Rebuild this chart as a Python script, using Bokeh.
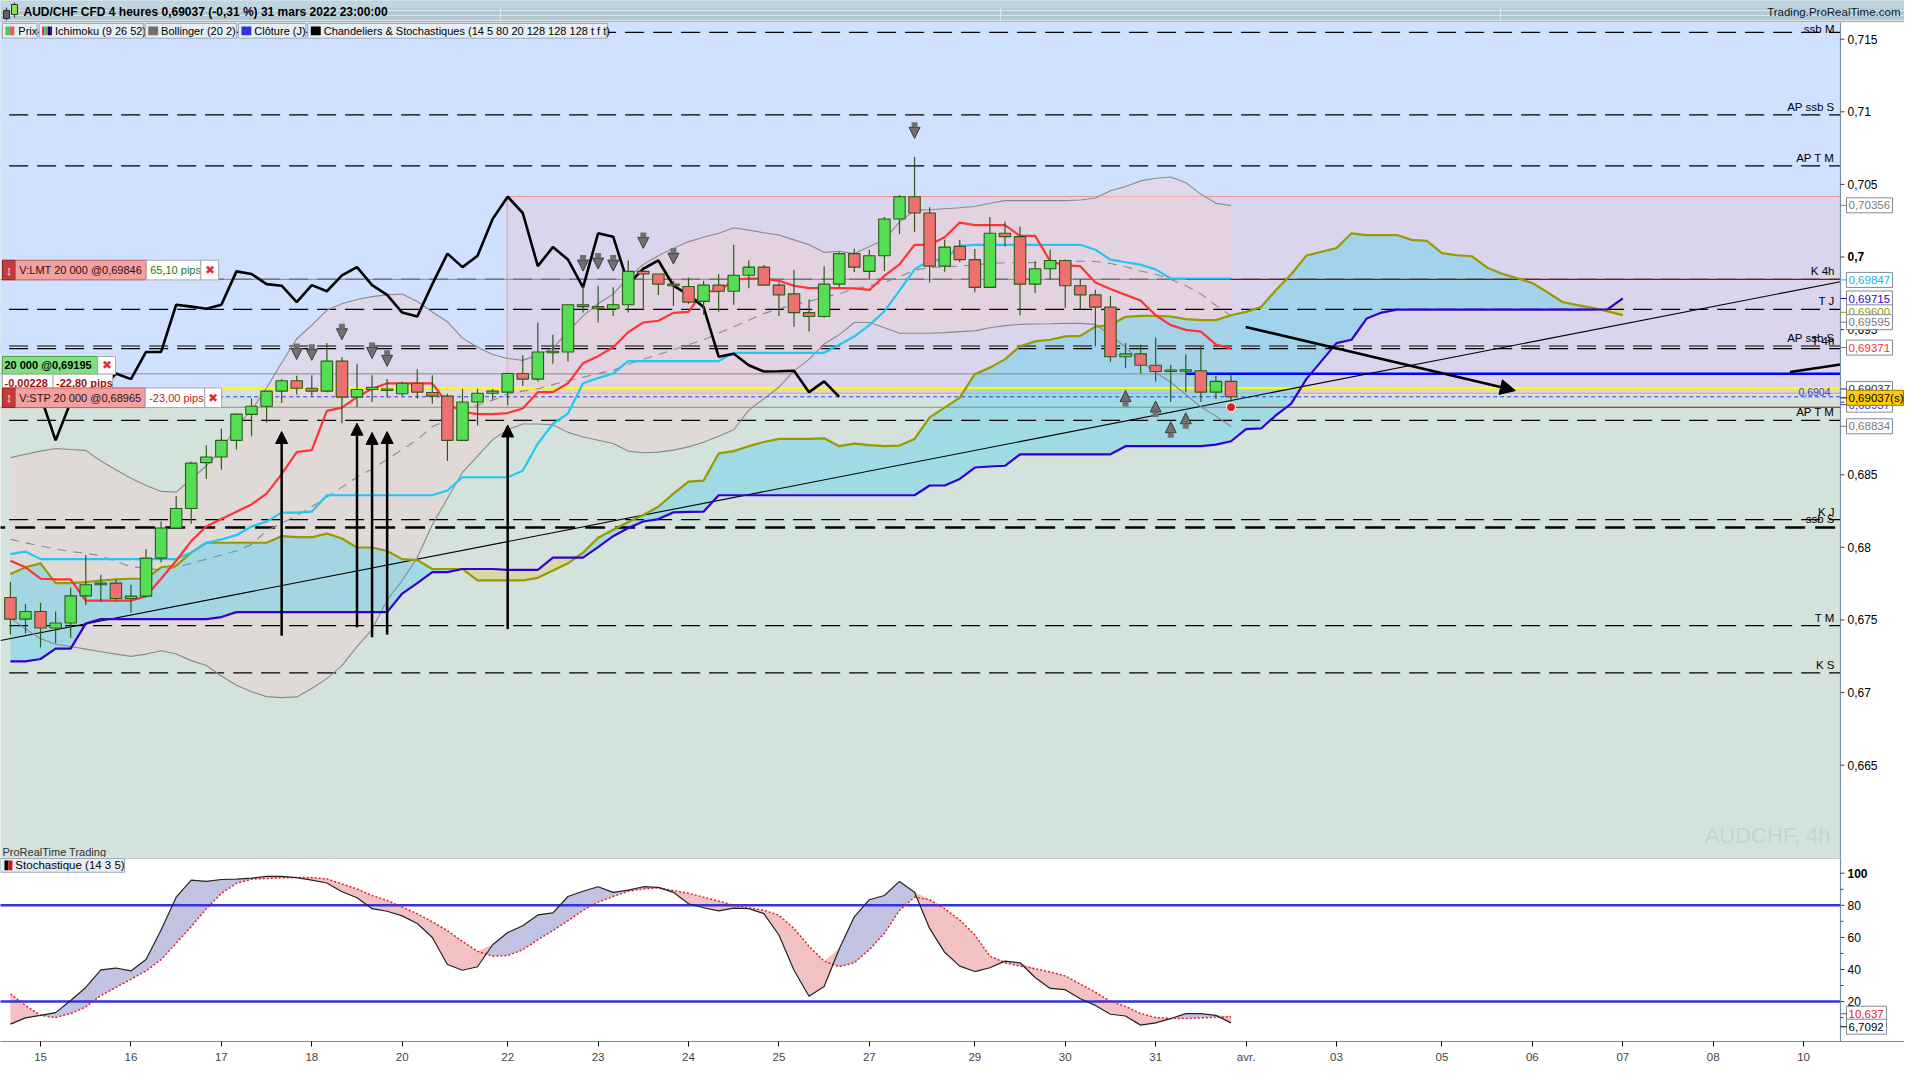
import numpy as np
from bokeh.core.properties import value
from bokeh.embed import file_html
from bokeh.layouts import column
from bokeh.models import Arrow, ColumnDataSource, FixedTicker, NormalHead, Range1d
from bokeh.plotting import figure
from bokeh.resources import INLINE

FONT = "Liberation Sans"

# AUD/CHF 4h candles, 82 bars up to 31 mars 2022 23:00
opens = [.67655, .67506, .67558, .67445, .67479, .67666, .67743, .67754, .67648, .67664,
         .67926, .68133, .68268, .68584, .68622, .68737, .68916, .68972, .69076, .69148,
         .69096, .69076, .69283, .69035, .69087, .69080, .69058, .69130, .69067, .69042,
         .68737, .69001, .69062, .69069, .69198, .69159, .69340, .69346, .69671, .69658,
         .69644, .69671, .69901, .69883, .69813, .69797, .69694, .69806, .69764, .69874,
         .69930, .69806, .69746, .69617, .69590, .69813, .70023, .69901, .70009, .70262,
         .70415, .70303, .69937, .70073, .69982, .69791, .70163, .70140, .69813, .69919,
         .69976, .69802, .69739, .69655, .69313, .69333, .69254, .69211, .69213, .69216,
         .69069, .69143]
highs = [.67761, .67610, .67619, .67558, .67723, .67948, .67811, .67781, .67743, .67987,
         .68178, .68354, .68589, .68704, .68819, .68922, .69026, .69076, .69159, .69182,
         .69186, .69407, .69310, .69265, .69186, .69159, .69143, .69227, .69186, .69058,
         .69092, .69092, .69091, .69202, .69324, .69549, .69464, .69671, .69802, .69802,
         .69791, .69976, .69901, .69883, .69836, .69858, .69836, .69881, .70084, .69976,
         .69944, .69824, .69910, .69707, .69937, .70032, .70057, .70050, .70275, .70427,
         .70688, .70343, .70118, .70118, .70055, .70275, .70242, .70208, .69971, .70050,
         .69982, .69847, .69775, .69730, .69407, .69396, .69446, .69256, .69328, .69385,
         .69180, .69189]
lows = [.67400, .67407, .67310, .67339, .67378, .67603, .67626, .67633, .67551, .67655,
        .67896, .68133, .68162, .68471, .68535, .68674, .68765, .68859, .68995, .69053,
        .69044, .69069, .68855, .68967, .69001, .69031, .69044, .69024, .68990, .68595,
        .68731, .68839, .69017, .68979, .69114, .69143, .69265, .69279, .69617, .69549,
        .69594, .69617, .69640, .69739, .69662, .69678, .69603, .69622, .69671, .69784,
        .69806, .69594, .69520, .69486, .69581, .69791, .69897, .69847, .69903, .70156,
        .70174, .69824, .69899, .69964, .69757, .69791, .70073, .69599, .69752, .69847,
        .69649, .69640, .69385, .69279, .69234, .69198, .69143, .69001, .69069, .69001,
        .69024, .69001]
closes = [.67506, .67558, .67445, .67479, .67666, .67743, .67754, .67648, .67664, .67926,
          .68133, .68268, .68580, .68622, .68737, .68918, .68972, .69076, .69148, .69096,
          .69076, .69283, .69035, .69087, .69103, .69087, .69130, .69069, .69042, .68737,
          .69001, .69062, .69076, .69198, .69159, .69346, .69346, .69671, .69658, .69644,
          .69671, .69901, .69883, .69813, .69802, .69689, .69806, .69764, .69874, .69930,
          .69806, .69739, .69617, .69590, .69813, .70023, .69930, .70009, .70262, .70415,
          .70303, .69937, .70068, .69982, .69791, .70163, .70140, .69813, .69919, .69976,
          .69802, .69739, .69655, .69313, .69333, .69254, .69211, .69213, .69216, .69069,
          .69143, .69037]

# Ichimoku (9 26 52)
tenkan = [.67908, .67863, .67784, .67779, .67779, .67633, .67633, .67633, .67633, .67664,
          .67784, .67908, .68043, .68144, .68196, .68246, .68296, .68370, .68505, .68656,
          .68670, .68940, .68963, .69035, .69092, .69130, .69130, .69130, .69130, .68990,
          .68934, .68918, .68918, .68925, .68956, .69069, .69069, .69130, .69268, .69317,
          .69378, .69482, .69549, .69561, .69615, .69622, .69764, .69764, .69843, .69852,
          .69852, .69836, .69802, .69786, .69786, .69786, .69784, .69773, .69870, .69949,
          .70084, .70084, .70136, .70237, .70219, .70219, .70219, .70145, .70145, .69971,
          .69942, .69937, .69824, .69779, .69739, .69700, .69599, .69531, .69498, .69486,
          .69396, .69371]
kijun = [.67953, .67971, .67919, .67919, .67919, .67919, .67919, .67919, .67919, .67919,
         .67919, .67919, .67964, .68032, .68054, .68084, .68144, .68177, .68239, .68239,
         .68246, .68359, .68359, .68359, .68359, .68359, .68359, .68359, .68359, .68392,
         .68483, .68483, .68483, .68483, .68528, .68715, .68850, .68922, .69130, .69166,
         .69198, .69283, .69283, .69283, .69283, .69283, .69283, .69283, .69340, .69340,
         .69340, .69340, .69340, .69340, .69340, .69396, .69452, .69531, .69626, .69768,
         .69915, .69976, .69982, .70077, .70084, .70084, .70084, .70084, .70084, .70084,
         .70084, .70084, .70050, .69982, .69964, .69947, .69915, .69852, .69852, .69852,
         .69852, .69852]
# senkou spans as drawn (already 26 bars ahead), 108 points
span_a = [.67817, .67863, .67890, .67754, .67754, .67761, .67772, .67779, .67784, .67784,
          .67863, .67874, .67964, .68032, .68032, .68032, .68032, .68032, .68077, .68070,
          .68070, .68095, .68061, .67999, .67999, .67975, .67919, .67912, .67851, .67851,
          .67851, .67772, .67772, .67772, .67772, .67790, .67840, .67890, .67964, .68066,
          .68122, .68174, .68223, .68280, .68370, .68453, .68460, .68647, .68663, .68697,
          .68726, .68747, .68747, .68747, .68751, .68697, .68715, .68704, .68697, .68701,
          .68747, .68895, .68963, .69031, .69193, .69238, .69295, .69385, .69419, .69430,
          .69453, .69457, .69520, .69531, .69588, .69594, .69594, .69590, .69572, .69565,
          .69565, .69599, .69622, .69655, .69775, .69881, .70009, .70036, .70061, .70163,
          .70151, .70151, .70151, .70118, .70111, .70027, .70012, .70005, .69926, .69885,
          .69854, .69820, .69757, .69690, .69668, .69650, .69625, .69600]
span_b = [.67215, .67215, .67231, .67303, .67303, .67475, .67506, .67506, .67506, .67506,
          .67506, .67506, .67506, .67506, .67520, .67554, .67554, .67554, .67554, .67554,
          .67554, .67554, .67554, .67554, .67554, .67554, .67682, .67754, .67829, .67829,
          .67851, .67851, .67851, .67845, .67845, .67845, .67930, .67930, .67930, .68002,
          .68077, .68133, .68178, .68195, .68241, .68244, .68246, .68359, .68359, .68359,
          .68359, .68359, .68359, .68359, .68359, .68359, .68359, .68359, .68359, .68359,
          .68359, .68426, .68426, .68471, .68550, .68557, .68562, .68641, .68641, .68641,
          .68641, .68641, .68641, .68641, .68697, .68697, .68697, .68697, .68697, .68697,
          .68708, .68731, .68814, .68819, .68911, .68990, .69159, .69283, .69407, .69430,
          .69576, .69617, .69637, .69637, .69637, .69637, .69637, .69637, .69637, .69637,
          .69637, .69637, .69637, .69637, .69637, .69637, .69640, .69715]

# Bollinger (20 2)
bb_upper = [.68618, .68641, .68663, .68681, .68674, .68668, .68595, .68535, .68476, .68426,
            .68386, .68381, .68471, .68562, .68674, .68832, .68945, .69098, .69272, .69437,
            .69531, .69633, .69678, .69707, .69727, .69739, .69745, .69694, .69621, .69554,
            .69441, .69378, .69328, .69301, .69288, .69324, .69373, .69486, .69594, .69678,
            .69746, .69858, .69949, .70009, .70061, .70106, .70136, .70163, .70201, .70185,
            .70167, .70151, .70118, .70084, .70032, .70039, .70023, .70073, .70118, .70242,
            .70321, .70325, .70332, .70339, .70348, .70370, .70388, .70388, .70388, .70388,
            .70388, .70392, .70406, .70456, .70485, .70524, .70542, .70551, .70512, .70433,
            .70370, .70354]
bb_mid = [.68056, .68032, .68009, .67989, .67971, .67960, .67941, .67903, .67867, .67856,
          .67844, .67863, .67890, .67919, .67948, .67975, .68020, .68115, .68167, .68219,
          .68280, .68347, .68415, .68483, .68539, .68607, .68674, .68742, .68832, .68877,
          .68945, .68979, .69013, .69058, .69076, .69092, .69121, .69148, .69171, .69198,
          .69220, .69261, .69295, .69328, .69362, .69396, .69430, .69475, .69520, .69565,
          .69610, .69644, .69671, .69694, .69723, .69746, .69779, .69802, .69824, .69865,
          .69910, .69926, .69933, .69937, .69946, .69955, .69960, .69960, .69962, .69966,
          .69971, .69971, .69969, .69955, .69933, .69903, .69881, .69847, .69802, .69746,
          .69667, .69594]
bb_lower = [.67513, .67439, .67371, .67333, .67317, .67299, .67281, .67265, .67249, .67265,
            .67288, .67265, .67220, .67186, .67114, .67051, .67006, .66972, .66965, .66970,
            .67028, .67096, .67186, .67317, .67434, .67637, .67772, .67930, .68156, .68336,
            .68516, .68629, .68742, .68810, .68850, .68850, .68844, .68792, .68760, .68738,
            .68715, .68663, .68652, .68656, .68670, .68692, .68724, .68765, .68810, .68945,
            .69024, .69103, .69216, .69295, .69401, .69464, .69549, .69549, .69513, .69475,
            .69475, .69475, .69479, .69486, .69491, .69513, .69527, .69536, .69538, .69540,
            .69543, .69543, .69536, .69464, .69378, .69283, .69204, .69137, .69053, .68968,
            .68904, .68832]

# Stochastique (14 3 5)
stoch_k = [5.9, 9.8, 11.4, 13.1, 20.7, 28.8, 39.7, 40.9, 39.1, 46.2,
           64.6, 85.1, 95.7, 94.9, 96.1, 96.3, 96.9, 98.0, 98.0, 97.3,
           95.7, 93.9, 88.5, 84.7, 77.9, 76.3, 73.4, 68.7, 59.9, 43.1,
           39.5, 41.7, 55.4, 63.0, 67.3, 74.0, 75.3, 85.5, 88.8, 91.6,
           88.1, 89.5, 91.6, 91.2, 88.1, 81.0, 78.5, 76.5, 78.3, 77.9,
           74.8, 61.5, 39.5, 23.3, 29.4, 52.8, 72.8, 83.5, 86.1, 94.9,
           88.1, 65.6, 50.7, 42.1, 38.7, 41.1, 45.2, 44.2, 35.0, 28.2,
           27.4, 21.7, 17.6, 12.1, 11.0, 5.3, 6.7, 9.4, 12.5, 12.5,
           11.4, 6.7]
stoch_d = [24.7, 17.6, 11.4, 10.0, 12.5, 16.6, 23.7, 28.8, 33.9, 39.1,
           46.2, 56.4, 66.7, 77.9, 87.5, 93.7, 96.3, 96.7, 97.1, 97.3,
           97.3, 96.5, 93.3, 90.2, 86.1, 83.0, 78.9, 74.8, 69.7, 64.2,
           57.5, 51.3, 48.3, 48.7, 52.3, 58.5, 64.2, 70.4, 76.9, 82.0,
           85.5, 88.8, 90.2, 90.8, 89.2, 87.5, 85.1, 82.6, 80.0, 78.5,
           76.9, 73.8, 65.6, 54.4, 45.2, 41.7, 44.2, 52.3, 62.6, 76.9,
           85.1, 83.5, 77.9, 70.8, 61.5, 48.3, 44.2, 42.1, 40.5, 38.4,
           36.0, 30.9, 25.8, 20.2, 17.0, 12.5, 10.0, 9.4, 9.4, 9.8,
           10.2, 10.6]

day_pos = [2, 8, 14, 20, 26, 33, 39, 45, 51, 57, 64, 70, 76, 82, 88, 95, 101, 107, 113, 119]
day_labels = ["15", "16", "17", "18", "20", "22", "23", "24", "25", "27", "29", "30", "31",
              "avr.", "03", "05", "06", "07", "08", "10"]

price_ticks = [0.665, 0.67, 0.675, 0.68, 0.685, 0.69, 0.695, 0.70, 0.705, 0.71, 0.715]
stoch_ticks = [20, 40, 60, 80, 100]
stoch_minor = [10, 30, 50, 70, 90]

level_names = ["ssb M", "AP ssb S", "AP T M", "K 4h", "T J", "AP ssb S", "T 4h",
               "AP T M", "K J", "ssb S", "T M", "K S"]
level_prices = [0.71547, 0.70979, 0.70627, 0.69846, 0.69639, 0.69387, 0.69369,
                0.68875, 0.68191, 0.68137, 0.67461, 0.67136]

# candle-pattern signals
down_bars = [19, 20, 22, 24, 25, 38, 39, 40, 42, 44, 60]
down_tips = [.69294, .69288, .69430, .69301, .69247, .69903, .69917, .69903, .70059, .69951, .70817]
up_bars = [74, 76, 77, 78]
up_tips = [.69080, .69008, .68866, .68927]
signal_bars = [18, 23, 24, 25, 33]
signal_tips = [.68798, .68855, .68792, .68798, .68843]
signal_bases = [.67392, .67449, .67381, .67399, .67437]

order_lmt, order_pos, order_stp = 0.69846, 0.69195, 0.68965
last_price, alert_price = 0.69037, 0.69098

# boxed values on the price scale: text, level, text colour, fill, border, box width px
price_boxes = [("0,70356", 0.70356, "#7a7a7a", "white", "#7f8c96", 46),
               ("0,69847", 0.69842, "#18b4e8", "white", "#7f8c96", 46),
               ("0,69715", 0.69714, "#3300cc", "white", "#7f8c96", 46),
               ("0,69600", 0.69619, "#999900", "white", "#7f8c96", 46),
               ("0,69595", 0.69551, "#7a7a7a", "white", "#7f8c96", 46),
               ("0,69371", 0.69376, "#ff3030", "white", "#7f8c96", 46),
               ("0,69037", 0.69091, "#303030", "white", "#7f8c96", 46),
               ("0,68937", 0.68983, "#3a3ad8", "white", "#7f8c96", 46),
               ("0,69037(s)", 0.69030, "black", "#ffcc00", "#a07800", 57),
               ("0,68834", 0.68834, "#7a7a7a", "white", "#7f8c96", 46)]
stoch_boxes = [("10,637", 12.4, "#e02020", "white", "#7f8c96", 40),
               ("6,7092", 4.3, "black", "white", "#7f8c96", 40)]


# reference pixel -> data, used for overlays only
def bx(px):
    return (px - 10) / 15.2


def py(px):
    return 0.715 - (px - 39) / 14780


def sy(px):
    return (1052 - px) / 1.63


W, TOP_H, MAIN_H, STO_FH = 1904, 22, 835, 184
PLOT_W = 1840
X0, X1 = bx(0), bx(1856)
BPX = (X1 - X0) / PLOT_W
XR = X1 + (W - PLOT_W) * BPX
Y0, Y1 = py(872), py(22)
PXP = (Y1 - Y0) / MAIN_H
S0, S1 = sy(1060), sy(873)
SPX = (S1 - S0) / STO_FH

x = np.arange(len(closes))
xc = np.arange(len(span_a))
o, h, l, c = map(np.array, (opens, highs, lows, closes))


def txt(fig, xs, ys, s, color="black", size="11px", align="left", style="normal", baseline="middle"):
    fig.text(x=[xs], y=[ys], text=[s], text_font=value(FONT), text_font_size=size,
             text_color=color, text_align=align, text_baseline=baseline, text_font_style=style)


def comma(v):
    s = ("%.3f" % v).rstrip("0")
    return s.replace(".", ",")


def price_scale(fig, ticks, labels, bold, boxes, ylo, yhi, ppx, minor=()):
    # white strip right of the plot with ticks, labels and value boxes
    fig.quad(left=[X1], right=[XR + 1], top=[yhi + 1], bottom=[ylo - 1], fill_color="white",
             line_color=None)
    fig.segment(x0=[X1], x1=[X1], y0=[ylo - 1], y1=[yhi + 1], line_color="#7890a0", line_width=1.2)
    n = len(ticks)
    fig.segment(x0=[X1] * n, x1=[X1 + 4 * BPX] * n, y0=ticks, y1=ticks, line_color="#404040")
    if minor:
        fig.segment(x0=[X1] * len(minor), x1=[X1 + 3 * BPX] * len(minor), y0=list(minor),
                    y1=list(minor), line_color="#404040")
    for t, s in zip(ticks, labels):
        fig.text(x=[X1], y=[t], text=[s], x_offset=7, text_font=value(FONT), text_font_size="12px",
                 text_color="black", text_baseline="middle",
                 text_font_style="bold" if t == bold else "normal")
    for s, yv, tc, bg, bc, wpx in boxes:
        fig.quad(left=[X1 + 6 * BPX], right=[X1 + (6 + wpx) * BPX], top=[yv + 7.5 * ppx],
                 bottom=[yv - 7.5 * ppx], fill_color=bg, line_color=bc)
        fig.segment(x0=[X1], x1=[X1 + 6 * BPX], y0=[yv], y1=[yv], line_color=tc)
        fig.text(x=[X1 + 8 * BPX], y=[yv], text=[s], text_font=value(FONT), text_font_size="11.5px",
                 text_color=tc, text_baseline="middle")


# ---------------- title bar
top = figure(width=W, height=TOP_H, x_range=Range1d(0, W), y_range=Range1d(TOP_H, 0),
             output_backend="svg", toolbar_location=None, x_axis_location=None,
             y_axis_location=None, min_border=0, background_fill_color="#b0c9d5",
             border_fill_color="#b0c9d5", outline_line_color=None)
top.quad(left=[0], right=[W], top=[0], bottom=[8], fill_color="#bfd5df", line_color=None)
top.segment(x0=[0], x1=[W], y0=[21.5], y1=[21.5], line_color="#7d96a6")
top.segment(x0=[6, 14], x1=[6, 14], y0=[7, 2], y1=[20, 17], line_color="#303030")
top.quad(left=[3], right=[9], top=[10], bottom=[18], fill_color="#5a626a", line_color="#303030")
top.quad(left=[11], right=[17], top=[4], bottom=[14], fill_color="#8ee04a", line_color="#303030")
txt(top, 23, 11.5, "AUD/CHF CFD 4 heures 0,69037 (-0,31 %) 31 mars 2022 23:00:00",
    size="12px", style="bold")
txt(top, 1900, 11.5, "Trading.ProRealTime.com", size="11.5px", align="right", color="#0a1a28")

# ---------------- price panel
main = figure(width=W, height=MAIN_H, x_range=Range1d(X0, XR), y_range=Range1d(Y0, Y1),
              output_backend="svg", toolbar_location=None, x_axis_location=None,
              y_axis_location=None, min_border=0, background_fill_color="#d4e2dc",
              border_fill_color="white", outline_line_color=None)
main.grid.visible = False

# backgrounds
main.quad(left=[X0 - 5], right=[X1], top=[Y1 + 0.01], bottom=[alert_price],
          fill_color="#d0e0ff", line_color=None)
main.quad(left=[bx(511)], right=[X1], top=[0.70417], bottom=[0.69062],
          fill_color="#f0bec8", fill_alpha=0.32, line_color="#f09090", line_width=1)
main.varea(x=x, y1=bb_lower, y2=bb_upper, fill_color="#eecfd0", fill_alpha=0.45)

A, B = np.array(span_a), np.array(span_b)
main.varea(x=xc, y1=B, y2=np.maximum(A, B), fill_color="#6ad1ee", fill_alpha=0.5)
main.varea(x=xc, y1=A, y2=np.maximum(A, B), fill_color="#e0d070", fill_alpha=0.5)

# horizontal levels
thin = [i for i in range(len(level_names)) if i != 9]
main.segment(x0=[X0 - 5] * len(thin), x1=[X1] * len(thin),
             y0=[level_prices[i] for i in thin], y1=[level_prices[i] for i in thin],
             line_color="black", line_width=1.2, line_dash="19 9")
main.segment(x0=[X0 - 5], x1=[X1], y0=[level_prices[9]], y1=[level_prices[9]],
             line_color="black", line_width=2.5, line_dash="20 10")
main.segment(x0=[X0 - 5] * 3, x1=[78, 78, 81], y0=[order_lmt, order_pos, order_stp],
             y1=[order_lmt, order_pos, order_stp], line_color="#8a8a8a", line_width=1)
main.segment(x0=[78, 81], x1=[X1] * 2, y0=[order_lmt, order_stp], y1=[order_lmt, order_stp],
             line_color="#b00000", line_width=1.2)
main.segment(x0=[78], x1=[X1], y0=[order_pos], y1=[order_pos], line_color="#0000ff", line_width=2.5)
main.segment(x0=[X0 - 5], x1=[X1], y0=[alert_price], y1=[alert_price], line_color="#ffff00", line_width=2)
main.segment(x0=[X0 - 5], x1=[X1], y0=[last_price], y1=[last_price], line_color="#3333ff",
             line_width=1, line_dash="4 3")

# trend line and short segment
main.line(x=[bx(0), X1], y=[0.67359, 0.69830], line_color="black", line_width=1.1)
main.line(x=[bx(1805), X1], y=[0.69208, 0.69260], line_color="black", line_width=2.5)

# bollinger
main.line(x=x, y=bb_upper, line_color="#8a8a8a", line_width=1.1)
main.line(x=x, y=bb_lower, line_color="#8a8a8a", line_width=1.1)
main.line(x=x, y=bb_mid, line_color="#8a8a8a", line_width=1.1, line_dash="9 7")

# ichimoku
main.line(x=xc, y=span_a, line_color="#999900", line_width=2.2)
main.line(x=xc, y=span_b, line_color="#3300cc", line_width=2.2)
main.line(x=x, y=kijun, line_color="#1ec8f5", line_width=2.2)
main.line(x=x, y=tenkan, line_color="#ff3333", line_width=2.2)
main.line(x=x[:len(closes) - 26], y=closes[26:], line_color="black", line_width=2.6)

# candles
up = c >= o
main.segment(x0=x, x1=x, y0=l, y1=h, line_color="#2d5a18", line_width=1.2)
body_bot = np.minimum(o, c)
body_top = np.maximum(np.maximum(o, c), body_bot + 1.5 * PXP)
main.vbar(x=x, width=0.76, top=body_top, bottom=body_bot,
          fill_color=["#55dd55" if u else "#ee7070" for u in up],
          line_color="#2d5a18", line_width=1.1)
main.scatter(x=[81], y=[order_stp], size=9, fill_color="#e02020", line_color="white", line_width=1)

# signal arrows
dsrc = ColumnDataSource(data=dict(x=down_bars, ys=[t + 16 * PXP for t in down_tips], ye=down_tips))
main.add_layout(Arrow(end=NormalHead(size=11, fill_color="#707070", line_color="#3c3c3c", line_width=1),
                      x_start="x", y_start="ys", x_end="x", y_end="ye", source=dsrc,
                      line_color="#707070", line_width=6))
usrc = ColumnDataSource(data=dict(x=up_bars, ys=[t - 16 * PXP for t in up_tips], ye=up_tips))
main.add_layout(Arrow(end=NormalHead(size=11, fill_color="#707070", line_color="#3c3c3c", line_width=1),
                      x_start="x", y_start="ys", x_end="x", y_end="ye", source=usrc,
                      line_color="#707070", line_width=6))
ssrc = ColumnDataSource(data=dict(x=signal_bars, ys=signal_bases, ye=signal_tips))
main.add_layout(Arrow(end=NormalHead(size=12, fill_color="black", line_color="black"),
                      x_start="x", y_start="ys", x_end="x", y_end="ye", source=ssrc,
                      line_color="black", line_width=2.5))
main.add_layout(Arrow(end=NormalHead(size=15, fill_color="black", line_color="black"),
                      x_start=bx(1256), y_start=0.69518, x_end=bx(1528), y_end=0.69080,
                      line_color="black", line_width=2.6))

# level labels at right
offs = [-3 if n == "ssb M" else -2 for n in level_names]
base = ["middle" if n == "ssb M" else "bottom" for n in level_names]
main.text(x=[X1] * len(level_names), y=level_prices, text=level_names, x_offset=-6, y_offset=offs,
          text_font=value(FONT), text_font_size="11.5px", text_color="black",
          text_align="right", text_baseline=base)
main.text(x=[X1], y=[last_price], text=["0,6904"], x_offset=-10, y_offset=-1, text_font=value(FONT),
          text_font_size="10.5px", text_color="#3a3ad8", text_align="right", text_baseline="bottom")


# legend row
def quad_px(fig, x0, x1, y0, y1, fill, line="#9aa6b2"):
    fig.quad(left=[bx(x0)], right=[bx(x1)], top=[py(y0)], bottom=[py(y1)],
             fill_color=fill, line_color=line, line_width=1)


legend = [(2, 37, "Prix"), (39, 144, "Ichimoku (9 26 52)"), (146, 238, "Bollinger (20 2)"),
          (240, 308, "Clôture (J)"),
          (310, 612, "Chandeliers & Stochastiques (14 5 80 20 128 128 128 t f t)")]
for x0_, x1_, s in legend:
    quad_px(main, x0_, x1_, 23, 38, "#e6edf3", "#9ba8b4")
    txt(main, bx(x0_ + 16), py(30.5), s, size="11px")
quad_px(main, 5, 9, 26, 35, "#44cc44", None)
quad_px(main, 9, 14, 26, 35, "#e06060", None)
for k, col in enumerate(["#ff2020", "#20c0ff", "#999900", "#000000", "#3300cc"]):
    quad_px(main, 42 + 2 * k, 44 + 2 * k, 26, 35, col, None)
quad_px(main, 149, 159, 26, 35, "#707070", None)
quad_px(main, 243, 253, 26, 35, "#3333dd", None)
quad_px(main, 313, 323, 26, 35, "#000000", None)

# order widgets
quad_px(main, 2, 15, 264, 284, "#c83a3a", "#8a2020")
txt(main, bx(8.5), py(274), "↕", color="white", size="13px", align="center", style="bold")
quad_px(main, 15, 147, 264, 284, "#f3a0a0", "#b86060")
txt(main, bx(19), py(274), "V:LMT  20 000 @0,69846", color="#301010", size="11px")
quad_px(main, 147, 202, 264, 284, "white", "#a8a8a8")
txt(main, bx(151), py(274), "65,10 pips", color="#1a7a1a", size="11px")
quad_px(main, 202, 220, 264, 284, "white", "#a8a8a8")
txt(main, bx(211), py(274), "✖", color="#e03030", size="12px", align="center")

quad_px(main, 2, 98, 362, 380, "#7ee07e", "#50a050")
txt(main, bx(4), py(371), "20 000 @0,69195", size="11px", style="bold")
quad_px(main, 98, 116, 362, 380, "white", "#a8a8a8")
txt(main, bx(107), py(371), "✖", color="#e03030", size="12px", align="center")
quad_px(main, 2, 53, 380, 396, "white", "#b0b0b0")
txt(main, bx(4), py(389), "-0,00228", color="#a01010", size="11px", style="bold")
quad_px(main, 53, 113, 380, 396, "white", "#b0b0b0")
txt(main, bx(56), py(389), "-22,80 pips", color="#a01010", size="11px", style="bold")

quad_px(main, 2, 15, 394, 414, "#c83a3a", "#8a2020")
txt(main, bx(8.5), py(404), "↕", color="white", size="13px", align="center", style="bold")
quad_px(main, 15, 146, 394, 414, "#f3a0a0", "#b86060")
txt(main, bx(19), py(404), "V:STP  20 000 @0,68965", color="#301010", size="11px")
quad_px(main, 146, 206, 394, 414, "white", "#a8a8a8")
txt(main, bx(150), py(404), "-23,00 pips", color="#c02020", size="11px")
quad_px(main, 206, 223, 394, 414, "white", "#a8a8a8")
txt(main, bx(214.5), py(404), "✖", color="#e03030", size="12px", align="center")

txt(main, bx(1846), py(850), "AUDCHF, 4h", color="#c4d4d1", size="22px", align="right")
txt(main, bx(2), py(866), "ProRealTime Trading", color="#303030", size="11px")

price_scale(main, price_ticks, [comma(t) for t in price_ticks], 0.70, price_boxes, Y0, Y1, PXP)

# ---------------- stochastic panel
sto = figure(width=W, frame_height=STO_FH, x_range=main.x_range, y_range=Range1d(S0, S1),
             output_backend="svg", toolbar_location=None, y_axis_location=None,
             min_border=0, min_border_bottom=22, background_fill_color="white",
             border_fill_color="white", outline_line_color=None)
sto.grid.visible = False
sto.xaxis.ticker = FixedTicker(ticks=day_pos)
sto.xaxis.major_label_overrides = {p_: s for p_, s in zip(day_pos, day_labels)}
sto.xaxis.major_label_text_font = FONT
sto.xaxis.major_label_text_font_size = "11.5px"
sto.xaxis.major_label_standoff = 4
sto.xaxis.major_tick_in = 0
sto.xaxis.major_tick_out = 5
sto.xaxis.minor_tick_line_color = None
sto.xaxis.axis_line_color = "#7890a0"

K, D = np.array(stoch_k), np.array(stoch_d)
sto.varea(x=x, y1=D, y2=np.maximum(K, D), fill_color="#c2c2e2")
sto.varea(x=x, y1=K, y2=np.maximum(K, D), fill_color="#f2c2c2")
sto.segment(x0=[X0 - 5] * 2, x1=[X1] * 2, y0=[80, 20], y1=[80, 20], line_color="#3333dd", line_width=2.5)
sto.line(x=x, y=D, line_color="#e02020", line_width=1.5, line_dash="2 2")
sto.line(x=x, y=K, line_color="#222222", line_width=1.2)
sto.segment(x0=[X0 - 5], x1=[X1], y0=[S1 - 0.5 * SPX], y1=[S1 - 0.5 * SPX], line_color="#7890a0")

sto.quad(left=[bx(0)], right=[bx(125)], top=[sy(874)], bottom=[sy(888)], fill_color="#e6edf3",
         line_color="#9ba8b4")
sto.quad(left=[bx(4)], right=[bx(8)], top=[sy(876)], bottom=[sy(886)], fill_color="black", line_color=None)
sto.quad(left=[bx(8)], right=[bx(12)], top=[sy(876)], bottom=[sy(886)], fill_color="#e01010", line_color=None)
txt(sto, bx(15), sy(881), "Stochastique (14 3 5)", size="11.5px")

price_scale(sto, stoch_ticks, [str(t) for t in stoch_ticks], 100, stoch_boxes, S0, S1, SPX,
            minor=stoch_minor)

layout = column(top, main, sto)
open("out.html", "w").write(file_html(layout, INLINE))
